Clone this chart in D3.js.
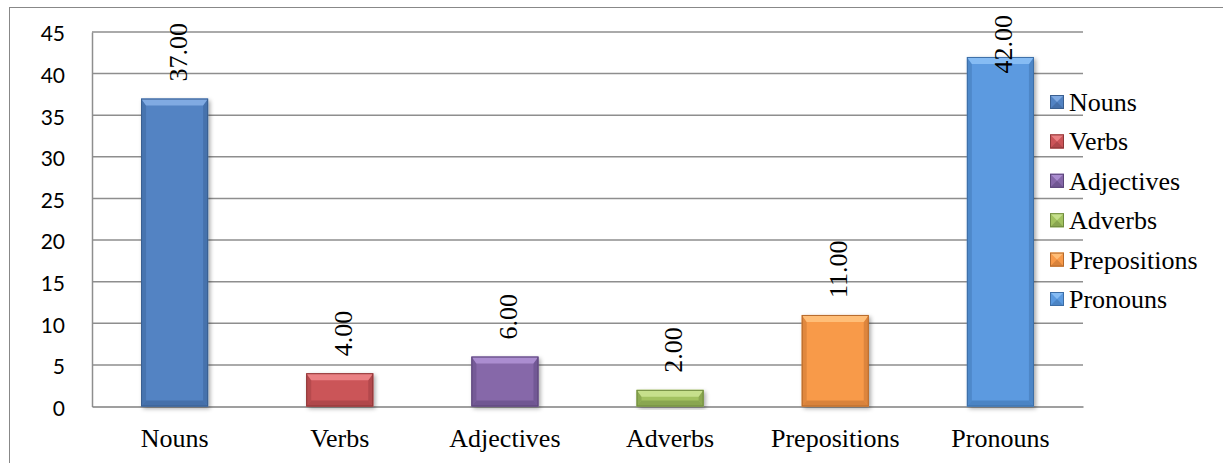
<!DOCTYPE html>
<html>
<head>
<meta charset="utf-8">
<script src="https://cdn.jsdelivr.net/npm/d3@7"></script>
<style>
  html, body { margin: 0; padding: 0; background: #ffffff; }
  svg { display: block; }
</style>
</head>
<body>
<svg id="chart" width="1223" height="463"></svg>
<script>
// Word-class counts
const categories = ["Nouns", "Verbs", "Adjectives", "Adverbs", "Prepositions", "Pronouns"];
const values = [37, 4, 6, 2, 11, 42];
const yTicks = [0, 5, 10, 15, 20, 25, 30, 35, 40, 45];

// face / light bevel / dark bevel / outline for each bar
const faceColors = ["#5283c3", "#cb5458", "#8668a9", "#a2c260", "#f89a4a", "#5b9ae0"];
const lightColors = ["#80aae2", "#ea8184", "#ab8dd0", "#c6e08c", "#ffbe78", "#86bcf4"];
const darkColors = ["#4570aa", "#b0474b", "#705692", "#89a650", "#d9833c", "#4b84c4"];
const edgeColors = ["#3a5f90", "#8d3737", "#5b4578", "#6f8a3e", "#b56a2c", "#3d6ea6"];

const svg = d3.select("#chart");
const W = 1223, H = 463;

const plot = { left: 92, right: 1083, top: 32, bottom: 406.5 };

const defs = svg.append("defs");
const shadow = defs.append("filter").attr("id", "barShadow")
  .attr("x", "-20%").attr("y", "-20%").attr("width", "140%").attr("height", "140%");
shadow.append("feDropShadow").attr("dx", 2).attr("dy", 2)
  .attr("stdDeviation", 2).attr("flood-color", "#000").attr("flood-opacity", 0.35);

// outer chart border (runs past the right and bottom edges)
svg.append("rect")
  .attr("x", 9.5).attr("y", 7.5)
  .attr("width", W + 20).attr("height", H + 20)
  .attr("fill", "none").attr("stroke", "#888").attr("stroke-width", 1);

const x = d3.scaleBand()
  .domain(categories)
  .range([plot.left, plot.right])
  .paddingInner(0.594)
  .paddingOuter(0.297);

const y = d3.scaleLinear().domain([0, 45]).range([plot.bottom, plot.top]);

// gridlines
svg.append("g").selectAll("line").data(yTicks.filter(t => t > 0)).join("line")
  .attr("x1", plot.left).attr("x2", plot.right)
  .attr("y1", d => y(d)).attr("y2", d => y(d))
  .attr("stroke", "#8e8e8e").attr("stroke-width", 1.5);

// y axis
const yAxis = svg.append("g")
  .attr("transform", `translate(${plot.left},0)`)
  .call(d3.axisLeft(y).tickValues(yTicks).tickSize(0).tickPadding(27));
yAxis.select(".domain").attr("stroke", "#8e8e8e").attr("stroke-width", 1.5);
yAxis.selectAll("text")
  .attr("font-family", "Lato, 'Open Sans', sans-serif")
  .attr("font-size", 21)
  .attr("fill", "#000")
  .attr("dy", "0.42em");

// x axis
const xAxis = svg.append("g")
  .attr("transform", `translate(0,${plot.bottom})`)
  .call(d3.axisBottom(x).tickSize(0).tickPadding(22));
xAxis.select(".domain").attr("stroke", "#7f7f7f").attr("stroke-width", 1.5);
xAxis.selectAll("text")
  .attr("font-family", "'Liberation Serif', 'Times New Roman', serif")
  .attr("font-size", 26)
  .attr("fill", "#000")
  .attr("dy", "0.71em");

// beveled bars
function bevelBar(g, bx, by, bw, bh, i, bt, bs, bb) {
  g.append("rect").attr("x", bx).attr("y", by).attr("width", bw).attr("height", bh)
    .attr("fill", faceColors[i]).attr("filter", "url(#barShadow)");
  const pts = arr => arr.map(p => p.join(",")).join(" ");
  // left and right sides
  g.append("polygon").attr("points", pts([[bx, by], [bx + bs, by + bt], [bx + bs, by + bh - bb], [bx, by + bh]]))
    .attr("fill", darkColors[i]).attr("opacity", 0.8);
  g.append("polygon").attr("points", pts([[bx + bw, by], [bx + bw - bs, by + bt], [bx + bw - bs, by + bh - bb], [bx + bw, by + bh]]))
    .attr("fill", darkColors[i]).attr("opacity", 0.9);
  // bottom
  g.append("polygon").attr("points", pts([[bx, by + bh], [bx + bs, by + bh - bb], [bx + bw - bs, by + bh - bb], [bx + bw, by + bh]]))
    .attr("fill", darkColors[i]);
  // top highlight
  g.append("polygon").attr("points", pts([[bx, by], [bx + bw, by], [bx + bw - bs, by + bt], [bx + bs, by + bt]]))
    .attr("fill", lightColors[i]);
  g.append("rect").attr("x", bx + 0.5).attr("y", by + 0.5).attr("width", bw - 1).attr("height", bh - 1)
    .attr("fill", "none").attr("stroke", edgeColors[i]).attr("stroke-width", 1);
}

const bars = svg.append("g");
categories.forEach((c, i) => {
  const bx = x(c), bw = x.bandwidth();
  const by = y(values[i]), bh = y(0) - y(values[i]);
  bevelBar(bars.append("g"), bx, by, bw, bh, i, 7, 5, 6);
});

// value labels, rotated, kept inside the chart frame
const labels = svg.append("g");
categories.forEach((c, i) => {
  const cx = x(c) + x.bandwidth() / 2;
  const t = labels.append("text")
    .attr("font-family", "'Liberation Serif', 'Times New Roman', serif")
    .attr("font-size", 26)
    .attr("fill", "#000")
    .text(values[i].toFixed(2));
  const len = t.node().getComputedTextLength();
  const ly = Math.max(y(values[i]) - 17, 15 + len);
  t.attr("transform", `translate(${cx + 12},${ly}) rotate(-90)`);
});

// legend
const legend = svg.append("g");
categories.forEach((c, i) => {
  const cy = 102 + i * 39.4;
  const g = legend.append("g");
  const s = 14, sx = 1050, sy = cy - 7;
  g.append("rect").attr("x", sx).attr("y", sy).attr("width", s).attr("height", s).attr("fill", faceColors[i]);
  g.append("polygon").attr("points", `${sx},${sy} ${sx + s},${sy} ${sx + s / 2},${sy + s / 2}`)
    .attr("fill", lightColors[i]);
  g.append("polygon").attr("points", `${sx},${sy + s} ${sx + s},${sy + s} ${sx + s / 2},${sy + s / 2}`)
    .attr("fill", darkColors[i]);
  g.append("rect").attr("x", sx + 0.5).attr("y", sy + 0.5).attr("width", s - 1).attr("height", s - 1)
    .attr("fill", "none").attr("stroke", edgeColors[i]).attr("stroke-width", 1);
  g.append("text")
    .attr("x", 1069).attr("y", cy + 9)
    .attr("font-family", "'Liberation Serif', 'Times New Roman', serif")
    .attr("font-size", 26)
    .attr("fill", "#000")
    .text(c);
});
</script>
</body>
</html>
